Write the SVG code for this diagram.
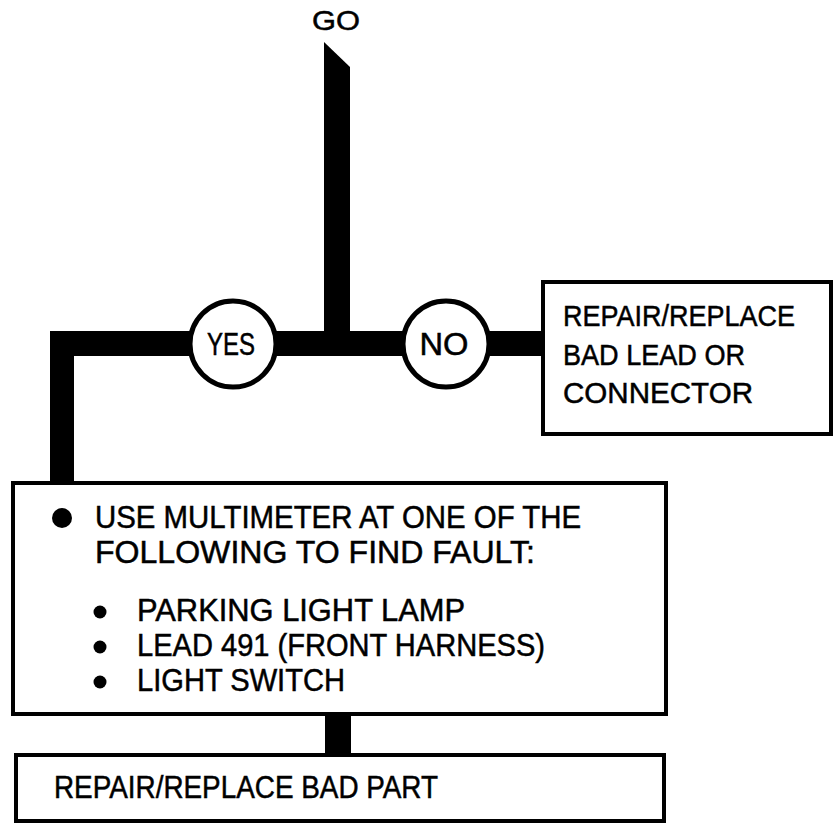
<svg xmlns="http://www.w3.org/2000/svg" width="835" height="825" viewBox="0 0 835 825">
<style>
.t{font-family:"Liberation Sans",Arial,sans-serif;fill:#000;stroke:#000;stroke-width:0.5;}
.box{fill:#fff;stroke:#000;stroke-width:4;}
.circ{fill:#fff;stroke:#000;stroke-width:5;}
.bar{fill:#000;}
</style>
<rect width="835" height="825" fill="#fff"/>
<g id="connectors">
<polygon class="bar" points="324,42 350,67 350,331 324,331"/>
<rect class="bar" x="50" y="331" width="494" height="25"/>
<rect class="bar" x="50" y="331" width="24" height="152"/>
<rect class="bar" x="325" y="713" width="26" height="42"/>
</g>
<g id="go"><text class="t" x="336" y="30" font-size="28" text-anchor="middle" textLength="48" lengthAdjust="spacingAndGlyphs">GO</text></g>
<g id="yes"><circle class="circ" cx="233" cy="344" r="43"/><text class="t" x="231" y="355" font-size="31" text-anchor="middle" textLength="48" lengthAdjust="spacingAndGlyphs">YES</text></g>
<g id="no"><circle class="circ" cx="446" cy="344" r="43"/><text class="t" x="444" y="355" font-size="31" text-anchor="middle" textLength="49" lengthAdjust="spacingAndGlyphs">NO</text></g>
<g id="repair-lead">
<rect class="box" x="543" y="282" width="288" height="152"/>
<text class="t" font-size="30"><tspan x="563" y="326" textLength="232" lengthAdjust="spacingAndGlyphs">REPAIR/REPLACE</tspan><tspan x="563" y="365" textLength="182" lengthAdjust="spacingAndGlyphs">BAD LEAD OR</tspan><tspan x="563" y="403" textLength="190" lengthAdjust="spacingAndGlyphs">CONNECTOR</tspan></text>
</g>
<g id="multimeter">
<rect class="box" x="13" y="483" width="653" height="231"/>
<circle cx="62" cy="518" r="10"/>
<text class="t" font-size="31"><tspan x="95" y="528" textLength="486" lengthAdjust="spacingAndGlyphs">USE MULTIMETER AT ONE OF THE</tspan><tspan x="95" y="563" textLength="440" lengthAdjust="spacingAndGlyphs">FOLLOWING TO FIND FAULT:</tspan></text>
<circle cx="100" cy="612" r="6.5"/>
<circle cx="100" cy="647" r="6.5"/>
<circle cx="100" cy="682" r="6.5"/>
<text class="t" font-size="31"><tspan x="137" y="621" textLength="328" lengthAdjust="spacingAndGlyphs">PARKING LIGHT LAMP</tspan><tspan x="137" y="656" textLength="408" lengthAdjust="spacingAndGlyphs">LEAD 491 (FRONT HARNESS)</tspan><tspan x="137" y="691" textLength="208" lengthAdjust="spacingAndGlyphs">LIGHT SWITCH</tspan></text>
</g>
<g id="repair-part">
<rect class="box" x="16" y="755" width="648" height="66"/>
<text class="t" font-size="32" x="54" y="798" textLength="384" lengthAdjust="spacingAndGlyphs">REPAIR/REPLACE BAD PART</text>
</g>
</svg>
